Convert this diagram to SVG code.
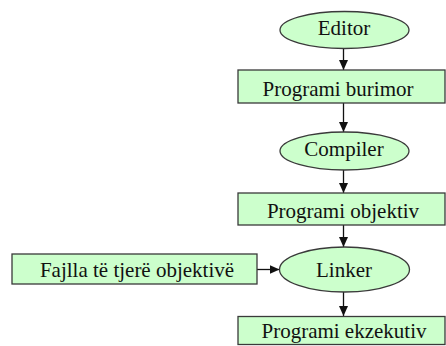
<svg xmlns="http://www.w3.org/2000/svg" width="446" height="346" viewBox="0 0 446 346">
<style>
.n{fill:#ccffcc;stroke:#3a3a3a;stroke-width:1.3}
.t{font-family:"Liberation Serif","Times New Roman",serif;font-size:21px;fill:#111;text-anchor:middle}
.c{stroke:#111;stroke-width:1.3;fill:none;marker-end:url(#ah)}
</style>
<defs>
<marker id="ah" viewBox="0 0 10 10" refX="10" refY="5" markerWidth="10" markerHeight="10" markerUnits="userSpaceOnUse" orient="auto">
<path d="M0,0.5 L10,5 L0,9.5 Z" fill="#111"/>
</marker>
</defs>
<g id="connectors">
<line class="c" x1="343.5" y1="48.5" x2="343.5" y2="70"/>
<line class="c" x1="343.5" y1="103" x2="343.5" y2="132"/>
<line class="c" x1="343.5" y1="170" x2="343.5" y2="193"/>
<line class="c" x1="343.5" y1="225" x2="343.5" y2="247"/>
<line class="c" x1="257" y1="269.5" x2="279.5" y2="269.5"/>
<line class="c" x1="343.5" y1="292" x2="343.5" y2="316"/>
</g>
<g id="editor">
<ellipse class="n" cx="344.5" cy="30" rx="64.5" ry="18.5"/>
<text class="t" x="344" y="34.5">Editor</text>
</g>
<g id="programi-burimor">
<rect class="n" x="238" y="70" width="207" height="33"/>
<text class="t" x="338" y="96">Programi burimor</text>
</g>
<g id="compiler">
<ellipse class="n" cx="344.5" cy="151" rx="64.5" ry="19"/>
<text class="t" x="344" y="155.5">Compiler</text>
</g>
<g id="programi-objektiv">
<rect class="n" x="238" y="193" width="207" height="32"/>
<text class="t" x="343" y="218">Programi objektiv</text>
</g>
<g id="fajlla">
<rect class="n" x="12" y="254" width="245" height="30"/>
<text class="t" x="137" y="276.5">Fajlla të tjerë objektivë</text>
</g>
<g id="linker">
<ellipse class="n" cx="344.5" cy="269.5" rx="65" ry="22.5"/>
<text class="t" x="344" y="277">Linker</text>
</g>
<g id="programi-ekzekutiv">
<rect class="n" x="238" y="316.5" width="207" height="28"/>
<text class="t" x="344" y="338">Programi ekzekutiv</text>
</g>
</svg>
